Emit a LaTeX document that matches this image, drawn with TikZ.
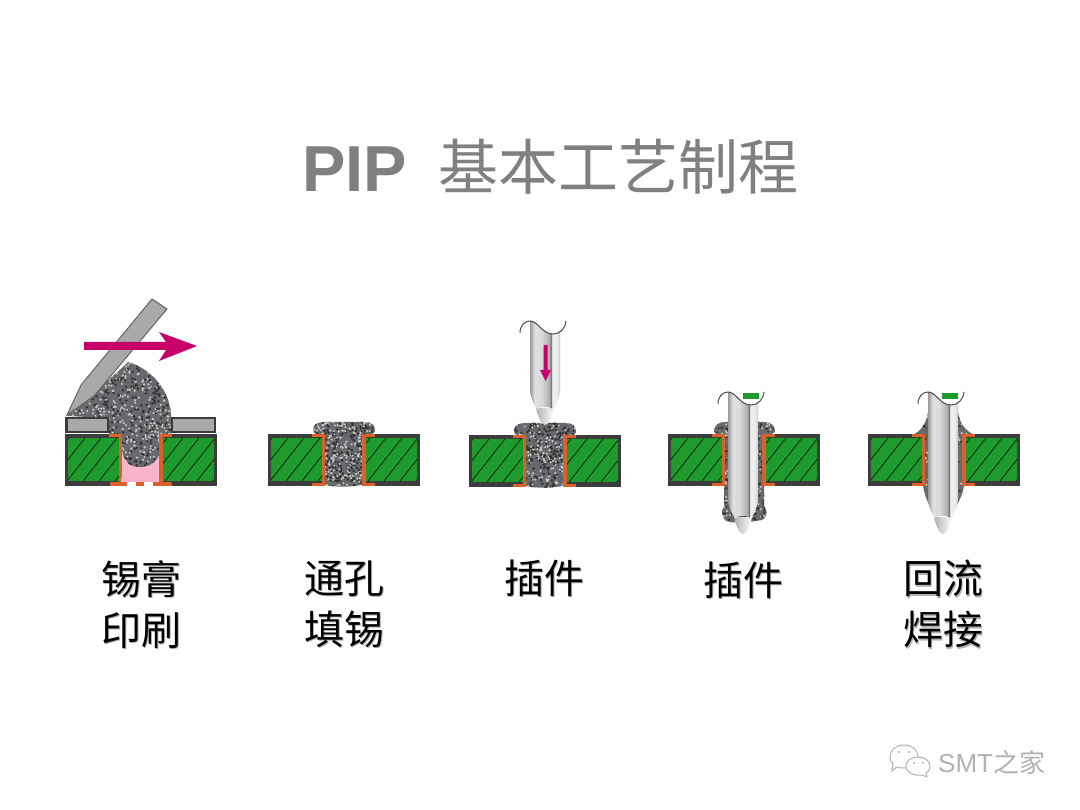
\documentclass[tikz,border=0pt]{standalone}
\usepackage{fontspec}
\setmainfont{Liberation Sans}
\newfontfamily\cjk{Noto Sans CJK SC}
\definecolor{boardgreen}{HTML}{1F9A2D}
\definecolor{boardedge}{HTML}{3C3C3C}
\definecolor{copper}{HTML}{D9622B}
\definecolor{magentaarrow}{HTML}{C8006A}
\definecolor{holepink}{HTML}{F8B4CC}
\definecolor{stencilgrey}{HTML}{A9A9A9}
\definecolor{pastebase}{HTML}{68696C}
\pgfdeclarehorizontalshading{pinshade}{100bp}{color(0bp)=(black!40);color(25bp)=(black!40);color(33bp)=(black!12);color(45bp)=(black!15);color(57bp)=(black!32);color(60bp)=(black!55);color(62bp)=(black!6);color(70bp)=(black!8);color(75bp)=(black!22);color(100bp)=(black!22)}
\tikzset{
    labeltext/.style={font=\cjk\fontsize{40}{51}\selectfont,align=center,text=black},
    titletext/.style={text=black!50,anchor=base west,inner sep=0},
    wave/.style={draw=black!70,line width=1},
    pinbody/.style={shading=pinshade},
    redarrow/.style={fill=magentaarrow,draw=none},
    stencil/.style={fill=stencilgrey,draw=boardedge,line width=2.5},
    hatch/.style={draw=black!75!boardgreen,line width=.8},
}
\newcommand{\shadowed}[3]{\makebox[0pt][l]{\hspace{#2}\raisebox{-#2}{\textcolor{#3}{#1}}}#1}
\newcommand{\pastegrain}[6]{
    \begin{scope}
    \clip #1;
    \fill[pastebase] (#2,#3) rectangle (#4,#5);
    \foreach \i in {1,...,#6}{
        \pgfmathsetmacro{\gx}{#2+rnd*(#4-#2)}
        \pgfmathsetmacro{\gy}{#3+rnd*(#5-#3)}
        \fill[black!22] (\gx,\gy) circle (1.2);
        \pgfmathsetmacro{\gx}{#2+rnd*(#4-#2)}
        \pgfmathsetmacro{\gy}{#3+rnd*(#5-#3)}
        \fill[black!80] (\gx,\gy) circle (1.4);
    }
    \end{scope}
}
\newcommand{\drawboard}[2]{
    \begin{scope}[shift={(#1,#2)}]
    \fill[boardedge] (0,0) rectangle (55,52);
    \fill[boardedge] (97,0) rectangle (152,52);
    \fill[boardgreen] (3,4) rectangle (55,47);
    \fill[boardgreen] (97,4) rectangle (149,47);
    \begin{scope}
    \clip (3,4) rectangle (55,47);
    \foreach \k in {-30,-14,...,50}{
        \draw[hatch] (\k,47) -- (\k+34,4);
    }
    \end{scope}
    \begin{scope}
    \clip (97,4) rectangle (149,47);
    \foreach \k in {68,84,...,150}{
        \draw[hatch] (\k,47) -- (\k+34,4);
    }
    \end{scope}
    \fill[copper] (44,0) rectangle (57,3.5);
    \fill[copper] (53.5,0) rectangle (57,52);
    \fill[copper] (44,48.5) rectangle (57,52);
    \fill[copper] (94,0) rectangle (107,3.5);
    \fill[copper] (94,0) rectangle (97.5,52);
    \fill[copper] (94,48.5) rectangle (107,52);
    \end{scope}
}
\newcommand{\drawpin}[3]{
    \begin{scope}[shift={(#1,#2)}]
    \shade[left color=black!30,right color=white] (6,#3-3) .. controls (8,#3+7) and (12,#3+14) .. (15,#3+14) .. controls (18,#3+14) and (22,#3+7) .. (24,#3-3) -- cycle;
    \path[pinbody] (0,0) .. controls (8,0) and (12,13) .. (23,13) .. controls (26,13) and (28,12) .. (30,10) -- (30,#3-20) .. controls (29,#3-12) and (26,#3-6) .. (23,#3-2) .. controls (18,#3-5) and (12,#3-5) .. (7,#3-2) .. controls (4,#3-6) and (1,#3-12) .. (0,#3-20) -- cycle;
    \draw[wave] (-10,12) .. controls (-10,4) and (-5,0) .. (0,0) .. controls (8,0) and (12,13) .. (23,13) .. controls (30,13) and (35,8) .. (36,0);
    \end{scope}
}
\begin{document}
\begin{tikzpicture}[x=1pt,y=-1pt]
    \useasboundingbox (0,0) rectangle (1080,810);
    \fill[white] (0,0) rectangle (1080,810);

    \node[titletext,font=\bfseries\fontsize{65}{65}\selectfont] (titlepip) at (302,192) {PIP};
    \node[titletext,font=\cjk\fontsize{60}{60}\selectfont] (titlecn) at (438,190) {基本工艺制程};

    \pgfmathsetseed{4711}

    \fill[holepink] (121,436) rectangle (162,484);
    \pastegrain{(67,416) .. controls (80,400) and (105,385) .. (128,362) .. controls (150,368) and (172,390) .. (171,420) -- (171,434) -- (160,436) -- (160,452) .. controls (157,462) and (150,467) .. (140,467) .. controls (130,467) and (124,462) .. (122,450) -- (122,436) -- (109,434) -- (109,418) -- cycle}{60}{355}{180}{470}{520}
    \drawboard{65}{434}
    \fill[white] (127,482) rectangle (136,486);
    \fill[white] (144,482) rectangle (153,486);
    \fill[holepink] (121,478) rectangle (159,482);
    \fill[boardedge] (65,482) rectangle (110,486);
    \fill[copper] (110,482) rectangle (127,486);
    \fill[copper] (136,482) rectangle (144,486);
    \fill[copper] (153,482) rectangle (171,486);
    \draw[stencil] (66.5,418) rectangle (108,432);
    \draw[stencil] (172,418) rectangle (215,432);
    \fill[stencilgrey,draw=black!60,line width=1] (152,299) -- (167,309) -- (94,396) -- (67,415) -- (81,385) -- cycle;
    \path[redarrow] (84,342) -- (166,342) -- (159,332) -- (197,346) -- (159,361) -- (166,350) -- (84,350) -- cycle;

    \pastegrain{(313,430) .. controls (313,424) and (318,422) .. (325,422) -- (365,422) .. controls (372,422) and (375,425) .. (375,431) .. controls (375,434) and (370,435) .. (364,436) -- (364,484) .. controls (358,487) and (330,488) .. (323,484) -- (323,436) .. controls (318,435) and (313,434) .. (313,430) -- cycle}{310}{420}{378}{490}{300}
    \drawboard{268}{434}

    \pastegrain{(514,431) .. controls (514,425) and (519,423) .. (526,423) -- (566,423) .. controls (573,423) and (576,426) .. (576,432) .. controls (576,435) and (571,436) .. (565,437) -- (565,485) .. controls (559,488) and (531,489) .. (524,485) -- (524,437) .. controls (519,436) and (514,435) .. (514,431) -- cycle}{510}{420}{580}{490}{300}
    \drawboard{469}{435}
    \drawpin{530}{321}{90}
    \path[redarrow] (543.5,345) -- (547.5,345) -- (547.5,370) -- (551,370) -- (545.5,381) -- (540,370) -- (543.5,370) -- cycle;

    \pastegrain{(714,432) .. controls (714,425) and (718,422) .. (726,422) -- (764,422) .. controls (772,422) and (775,426) .. (775,432) -- (764,438) -- (764,506) .. controls (767,510) and (768,514) .. (764,519) .. controls (758,522) and (732,524) .. (726,521) .. controls (721,516) and (721,510) .. (724,506) -- (724,438) -- cycle}{710}{420}{778}{526}{300}
    \drawboard{668}{434}
    \drawpin{728}{392}{128}
    \fill[boardgreen] (743,393) rectangle (759,399);

    \pastegrain{(912,435) .. controls (920,432) and (926,425) .. (928,412) -- (958,412) .. controls (960,425) and (967,432) .. (975,435) -- (964,438) -- (964,486) .. controls (962,497) and (958,503) .. (955,508) -- (931,508) .. controls (928,503) and (925,497) .. (923,486) -- (923,438) -- cycle}{905}{410}{980}{525}{130}
    \drawboard{868}{434}
    \drawpin{928}{392}{128}
    \fill[boardgreen] (942,393) rectangle (958,399);

    \node[labeltext] (label1) at (141,605) {\shadowed{锡膏}{1.5pt}{black!30}\\\shadowed{印刷}{1.5pt}{black!30}};
    \node[labeltext] (label2) at (344,605) {\shadowed{通孔}{1.5pt}{black!30}\\\shadowed{填锡}{1.5pt}{black!30}};
    \node[labeltext] (label3) at (544,579) {\shadowed{插件}{1.5pt}{black!30}};
    \node[labeltext] (label4) at (743,581) {\shadowed{插件}{1.5pt}{black!30}};
    \node[labeltext] (label5) at (943,605) {\shadowed{回流}{1.5pt}{black!30}\\\shadowed{焊接}{1.5pt}{black!30}};

    \draw[black!30,fill=white,line width=1] (890,757) .. controls (890,750) and (896,745) .. (904,745) .. controls (912,745) and (918,750) .. (918,757) .. controls (918,764) and (912,768) .. (904,768) .. controls (901,768) and (899,768) .. (897,767) -- (892,771) -- (893,764) .. controls (891,762) and (890,760) .. (890,757) -- cycle;
    \draw[black!30,fill=white,line width=1] (906,766) .. controls (906,761) and (911,757) .. (918,757) .. controls (925,757) and (930,761) .. (930,766) .. controls (930,770) and (928,772) .. (926,773) -- (927,777) -- (922,775) .. controls (914,776) and (906,773) .. (906,766) -- cycle;
    \fill[black!30] (899,752) circle (1.2);
    \fill[black!30] (909,752) circle (1.2);
    \fill[black!30] (914,763) circle (1.2);
    \fill[black!30] (923,763) circle (1.2);
    \node[text=black!30,anchor=west,inner sep=0,font=\fontsize{26}{26}\selectfont] (markname) at (938,763) {SMT{\cjk 之家}};
\end{tikzpicture}
\end{document}
